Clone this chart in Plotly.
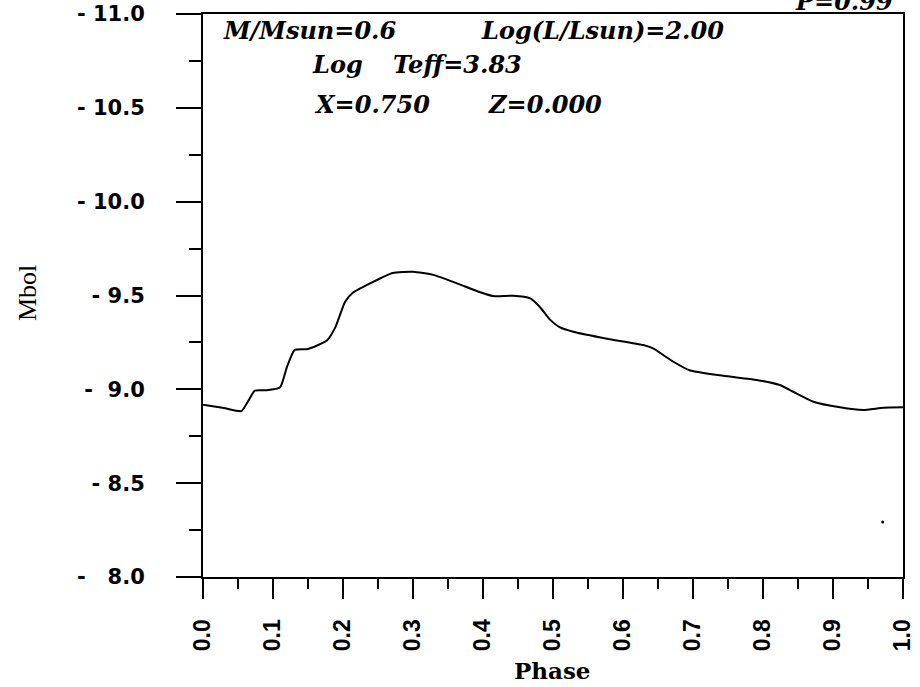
import plotly.graph_objects as go

# ---------------- data ----------------
phase = [0.0, 0.03, 0.055, 0.065, 0.074, 0.09, 0.11, 0.12, 0.131, 0.15, 0.177, 0.189,
         0.203, 0.214, 0.243, 0.271, 0.3, 0.329, 0.362, 0.396, 0.414, 0.443, 0.467,
         0.481, 0.496, 0.51, 0.529, 0.577, 0.629, 0.643, 0.672, 0.696, 0.743, 0.791,
         0.824, 0.843, 0.872, 0.91, 0.943, 0.972, 1.0]
mbol = [8.918, 8.90, 8.884, 8.94, 8.993, 8.995, 9.01, 9.12, 9.21, 9.215, 9.26, 9.33,
        9.467, 9.515, 9.573, 9.62, 9.627, 9.61, 9.566, 9.517, 9.497, 9.499, 9.486,
        9.44, 9.37, 9.33, 9.307, 9.27, 9.236, 9.218, 9.147, 9.1, 9.072, 9.05,
        9.023, 8.987, 8.934, 8.904, 8.89, 8.902, 8.904]

speck_phase = [0.971]
speck_mbol = [8.293]

x_tickvals = [0.0, 0.1, 0.2, 0.3, 0.4, 0.5, 0.6, 0.7, 0.8, 0.9, 1.0]
x_ticktext = ["0.0", "0.1", "0.2", "0.3", "0.4", "0.5", "0.6", "0.7", "0.8", "0.9", "1.0"]
y_tickvals = [8.0, 8.5, 9.0, 9.5, 10.0, 10.5, 11.0]
y_ticktext = ["-\u00a0\u00a0 8.0", "- 8.5", "-\u00a0\u00a09.0", "- 9.5", "- 10.0", "- 10.5", "- 11.0"]

labels_line1 = ["M/Msun=0.6", "Log(L/Lsun)=2.00"]
labels_line2 = ["Log", "Teff=3.83"]
labels_line3 = ["X=0.750", "Z=0.000"]
period_label = "P=0.99"

# ---------------- layout geometry ----------------
W, H = 920, 687
L, R, T, B = 203, 17, 14, 110
PW, PH = W - L - R, H - T - B


def px(xp):
    return (xp - L) / PW


def py(yp):
    return (H - B - yp) / PH


fig = go.Figure()
fig.add_trace(go.Scatter(x=phase, y=mbol, mode="lines",
                         line=dict(color="black", width=2, shape="spline", smoothing=0.5),
                         showlegend=False, hoverinfo="skip"))
fig.add_trace(go.Scatter(x=speck_phase, y=speck_mbol, mode="markers",
                         marker=dict(color="black", size=3), showlegend=False, hoverinfo="skip"))

fig.update_layout(
    width=W, height=H,
    margin=dict(l=L, r=R, t=T, b=B, pad=0, autoexpand=False),
    paper_bgcolor="white", plot_bgcolor="white",
    showlegend=False,
)

fig.update_xaxes(
    range=[0, 1], showgrid=False, zeroline=False, automargin=False,
    showline=True, linecolor="black", linewidth=2, mirror=True,
    ticks="outside", ticklen=20, tickwidth=2, tickcolor="black",
    tickvals=x_tickvals, ticktext=x_ticktext, tickangle=-90,
    ticklabelstandoff=11,
    tickfont=dict(family="Liberation Sans", size=23, color="black", weight="bold"),
    minor=dict(ticks="outside", ticklen=10, tickwidth=2, tickcolor="black", dtick=0.05,
               showgrid=False),
)
fig.update_yaxes(
    range=[8, 11], showgrid=False, zeroline=False, automargin=False,
    showline=True, linecolor="black", linewidth=2, mirror=True,
    ticks="outside", ticklen=25, tickwidth=2, tickcolor="black",
    tickvals=y_tickvals, ticktext=y_ticktext,
    ticklabelstandoff=27,
    tickfont=dict(family="DejaVu Sans", size=21, color="black", weight="bold"),
    minor=dict(ticks="outside", ticklen=12, tickwidth=2, tickcolor="black", dtick=0.25,
               showgrid=False),
)

ann_font = dict(family="DejaVu Serif", size=24, color="black", weight="bold", style="italic")

pieces = [
    (labels_line1[0], 222, 31), (labels_line1[1], 480, 31),
    (labels_line2[0], 311, 65), (labels_line2[1], 392, 65),
    (labels_line3[0], 313, 104), (labels_line3[1], 487, 104),
]
for text, xl, yc in pieces:
    fig.add_annotation(text=text, xref="paper", yref="paper", x=px(xl), y=py(yc),
                       xanchor="left", yanchor="middle", showarrow=False, font=ann_font,
                       borderpad=0)

fig.add_annotation(text=period_label, xref="paper", yref="paper", x=px(894), y=py(1),
                   xanchor="right", yanchor="middle", showarrow=False, font=ann_font,
                   borderpad=0)

fig.add_annotation(text="Phase", xref="paper", yref="paper", x=px(552), y=py(670),
                   xanchor="center", yanchor="middle", showarrow=False,
                   font=dict(family="DejaVu Serif", size=23, color="black", weight="bold"))

fig.add_annotation(text="Mbol", xref="paper", yref="paper", x=px(27), y=py(293),
                   xanchor="center", yanchor="middle", showarrow=False, textangle=-90,
                   font=dict(family="Liberation Serif", size=26, color="black"))

fig.write_html("out.html")
